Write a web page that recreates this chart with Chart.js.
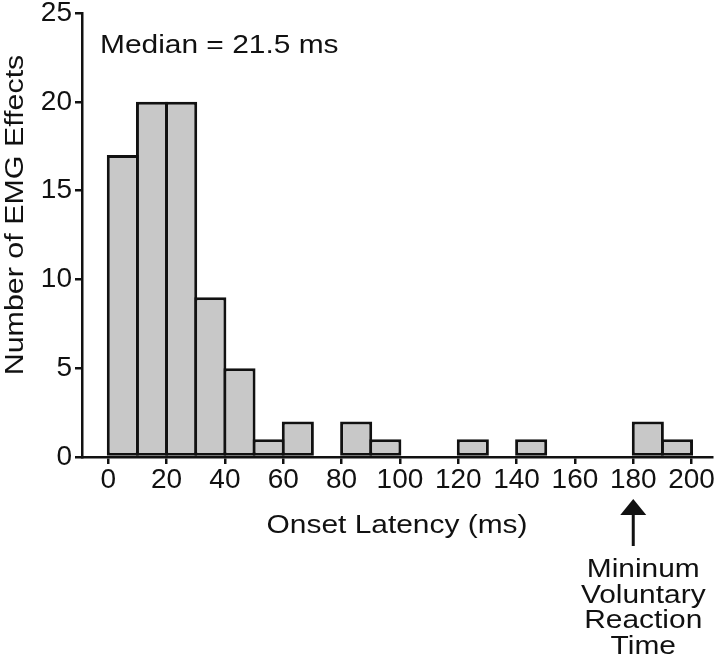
<!DOCTYPE html>
<html>
<head>
<meta charset="utf-8">
<script src="https://cdn.jsdelivr.net/npm/chart.js@4"></script>
<style>
  body { margin: 0; background: #fff; }
  canvas { display: block; }
</style>
</head>
<body>
<canvas id="histo" width="720" height="656"></canvas>
<script>
// bins de 10 ms (centre de chaque bin)
const binCenters = [5, 15, 25, 35, 45, 55, 65, 75, 85, 95, 105, 115, 125, 135, 145, 155, 165, 175, 185, 195];
const counts = [17, 20, 20, 9, 5, 1, 2, 0, 2, 1, 0, 0, 1, 0, 1, 0, 0, 0, 2, 1];

const medianLabel = 'Median = 21.5 ms';
const xTitle = 'Onset Latency (ms)';
const yTitle = 'Number of EMG Effects';
const arrowAt = 180;
const arrowText = ['Mininum', 'Voluntary', 'Reaction', 'Time'];

const FONT = '"Liberation Sans", Arial, Helvetica, sans-serif';
const INK = '#111';

// texte étiré horizontalement (la police de la figure est plus large)
function stretchedText(ctx, text, x, y, size, align, sx) {
  ctx.save();
  ctx.font = size + 'px ' + FONT;
  ctx.textAlign = align;
  ctx.translate(x, y);
  ctx.scale(sx, 1);
  ctx.fillText(text, 0, 0);
  ctx.restore();
}

const annotations = {
  id: 'annotations',
  afterDraw(chart) {
    const ctx = chart.ctx;
    const xs = chart.scales.x;
    const area = chart.chartArea;
    ctx.save();
    ctx.fillStyle = INK;
    ctx.textBaseline = 'alphabetic';

    // médiane
    stretchedText(ctx, medianLabel, 100, 53, 26, 'left', 1.15);

    // titre axe x
    stretchedText(ctx, xTitle, (area.left + area.right) / 2, 533, 26, 'center', 1.15);

    // titre axe y (vertical)
    ctx.save();
    ctx.translate(23, 215);
    ctx.rotate(-Math.PI / 2);
    stretchedText(ctx, yTitle, 0, 0, 26, 'center', 1.17);
    ctx.restore();

    // flèche
    const ax = xs.getPixelForValue(arrowAt);
    ctx.strokeStyle = INK;
    ctx.lineWidth = 3;
    ctx.beginPath();
    ctx.moveTo(ax, 512);
    ctx.lineTo(ax, 546);
    ctx.stroke();
    ctx.beginPath();
    ctx.moveTo(ax, 499);
    ctx.lineTo(ax - 13, 515);
    ctx.lineTo(ax + 13, 515);
    ctx.closePath();
    ctx.fill();

    arrowText.forEach((line, i) => {
      stretchedText(ctx, line, ax + 10, 577 + i * 25.5, 26, 'center', 1.15);
    });
    ctx.restore();
  }
};

new Chart(document.getElementById('histo'), {
  type: 'bar',
  data: {
    datasets: [{
      data: binCenters.map((c, i) => ({ x: c, y: counts[i] })),
      backgroundColor: '#c8c8c8',
      borderColor: INK,
      borderWidth: 3,
      borderSkipped: false,
      barPercentage: 1.1,
      categoryPercentage: 1,
    }],
  },
  options: {
    responsive: false,
    animation: false,
    layout: { padding: { left: 0, right: 8, top: 13, bottom: 0 } },
    plugins: {
      legend: { display: false },
      tooltip: { enabled: false },
    },
    scales: {
      x: {
        type: 'linear',
        offset: false,
        min: -9,
        max: 207,
        ticks: {
          stepSize: 20,
          includeBounds: false,
          maxTicksLimit: 30,
          autoSkip: false,
          maxRotation: 0,
          color: INK,
          padding: 2,
          font: { family: FONT, size: 28, lineHeight: 1 },
        },
        grid: { offset: false, drawOnChartArea: false, tickLength: 7, color: INK, lineWidth: 2.5 },
        border: { display: true, color: INK, width: 2.5 },
        afterFit(scale) {
          scale.height = 656 - 457;
          scale.paddingLeft = 0;
          scale.paddingRight = 0;
        },
      },
      y: {
        min: 0,
        max: 25,
        ticks: {
          stepSize: 5,
          color: INK,
          padding: 3,
          font: { family: FONT, size: 28, lineHeight: 1 },
        },
        grid: { drawOnChartArea: false, tickLength: 7, color: INK, lineWidth: 2.5 },
        border: { display: true, color: INK, width: 2.5 },
        afterFit(scale) {
          scale.width = 82;
          scale.paddingTop = 0;
          scale.paddingBottom = 0;
        },
      },
    },
  },
  plugins: [annotations],
});
</script>
</body>
</html>
